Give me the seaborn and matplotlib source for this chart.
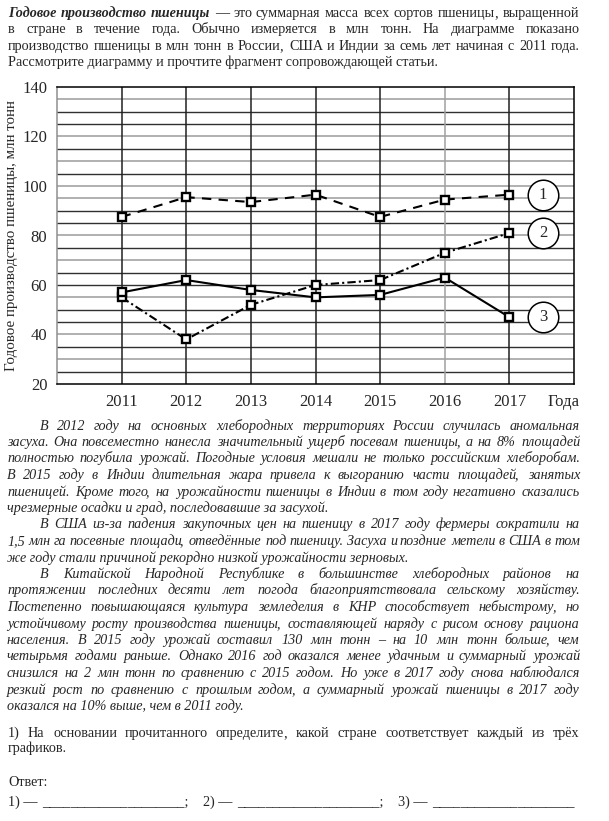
import numpy as np
import pandas as pd
import matplotlib
matplotlib.use('Agg')
import matplotlib.pyplot as plt
import seaborn as sns

years = [2011, 2012, 2013, 2014, 2015, 2016, 2017]
series_1 = [87.5, 95.5, 93.5, 96.5, 87.5, 94.5, 96.5]
series_2 = [55, 38, 52, 60, 62, 73, 81]
series_3 = [57, 62, 58, 55, 56, 63, 47]
series_names = ['1', '2', '3']
y_ticks = [20, 40, 60, 80, 100, 120, 140]
gray_rows = [135, 120, 110, 100, 95, 80, 70, 55, 40, 30]

header = [
    'Годовое производство пшеницы — это суммарная масса всех сортов пшеницы, выращенной',
    'в стране в течение года. Обычно измеряется в млн тонн. На диаграмме показано',
    'производство пшеницы в млн тонн в России, США и Индии за семь лет начиная с 2011 года.',
    'Рассмотрите диаграмму и прочтите фрагмент сопровождающей статьи.',
]
article = [
    'В 2012 году на основных хлебородных территориях России случилась аномальная',
    'засуха. Она повсеместно нанесла значительный ущерб посевам пшеницы, а на 8% площадей',
    'полностью погубила урожай. Погодные условия мешали не только российским хлеборобам.',
    'В 2015 году в Индии длительная жара привела к выгоранию части площадей, занятых',
    'пшеницей. Кроме того, на урожайности пшеницы в Индии в том году негативно сказались',
    'чрезмерные осадки и град, последовавшие за засухой.',
    'В США из-за падения закупочных цен на пшеницу в 2017 году фермеры сократили на',
    '1,5 млн га посевные площади, отведённые под пшеницу. Засуха и поздние метели в США в том',
    'же году стали причиной рекордно низкой урожайности зерновых.',
    'В Китайской Народной Республике в большинстве хлебородных районов на',
    'протяжении последних десяти лет погода благоприятствовала сельскому хозяйству.',
    'Постепенно повышающаяся культура земледелия в КНР способствует небыстрому, но',
    'устойчивому росту производства пшеницы, составляющей наряду с рисом основу рациона',
    'населения. В 2015 году урожай составил 130 млн тонн – на 10 млн тонн больше, чем',
    'четырьмя годами раньше. Однако 2016 год оказался менее удачным и суммарный урожай',
    'снизился на 2 млн тонн по сравнению с 2015 годом. Но уже в 2017 году снова наблюдался',
    'резкий рост по сравнению с прошлым годом, а суммарный урожай пшеницы в 2017 году',
    'оказался на 10% выше, чем в 2011 году.',
]
indent_lines = [0, 6, 9]
last_lines = [5, 8, 17]
question = [
    '1) На основании прочитанного определите, какой стране соответствует каждый из трёх',
    'графиков.',
]

W, H = 609, 821
FS = 10.2

sns.set_style('white')
plt.rcParams['font.family'] = ['Liberation Serif', 'DejaVu Serif']

fig = plt.figure(figsize=(W / 100, H / 100), dpi=100)
renderer = fig.canvas.get_renderer()


def width_of(s, **kw):
    t = fig.text(0, 0, s, **kw)
    w = t.get_window_extent(renderer).width
    t.remove()
    return w


def put_line(text, base, x0, x1, size, style='normal', justify=True, n_bold=0):
    base = round(base)
    if not justify:
        fig.text(x0 / W, 1 - base / H, text, fontsize=size, style=style,
                 va='baseline', ha='left')
        return
    words = text.split(' ')
    groups = []
    for i, w in enumerate(words):
        bold = i < n_bold
        kw = dict(fontsize=size, style='italic' if bold else style,
                  weight='bold' if bold else 'normal', va='baseline', ha='left')
        full = width_of(w, **kw)
        if w.endswith(',') and len(w) > 1:
            # comma drawn on its own so the word keeps the line's baseline
            word_t = fig.text(0, 1 - base / H, w[:-1], **kw)
            comma_t = fig.text(0, 1 - base / H, ',', **kw)
            offs = [0, width_of(w[:-1], **kw) - 1.5]
            groups.append(([word_t, comma_t], offs, full))
        else:
            groups.append(([fig.text(0, 1 - base / H, w, **kw)], [0], full))
    total = sum(g[2] for g in groups)
    gap = (x1 - x0 - total) / (len(groups) - 1)
    x = x0
    for texts, offs, full in groups:
        for t, o in zip(texts, offs):
            t.set_x(round(x + o) / W)
        x += full + gap


# header
for i, line in enumerate(header):
    put_line(line, 17 + 16.4 * i, 8, 580, FS, justify=(i < 3), n_bold=3 if i == 0 else 0)

# chart
ax = fig.add_axes([57 / W, 1 - 384 / H, (574 - 57) / W, (384 - 87) / H])
for v in range(25, 140, 5):
    c = '#b0b0b0' if v in gray_rows else '#303030'
    ax.axhline(v, color=c, lw=1.0 if c == '#303030' else 1.4, zorder=0)
for yr in years:
    c = '#a0a0a0' if yr == 2016 else '#202020'
    ax.axvline(yr, color=c, lw=1.1, zorder=0)

df = pd.DataFrame({'year': years, '1': series_1, '2': series_2, '3': series_3})
styles = {'1': (0, (4.5, 3.5)), '2': (0, (4, 1.5, 1, 1.5)), '3': '-'}
for name in series_names:
    sns.lineplot(data=df, x='year', y=name, ax=ax, color='black', lw=1.5,
                 linestyle=styles[name], marker='s', markersize=5.3,
                 markerfacecolor='white', markeredgecolor='black',
                 markeredgewidth=1.7, zorder=3)
    ax.plot(years[-1] + 0.52, df[name].iloc[-1], marker='o', markersize=22,
            markerfacecolor='white', markeredgecolor='black', markeredgewidth=1.1,
            zorder=4)
    ax.text(years[-1] + 0.52, df[name].iloc[-1], name, fontsize=12,
            ha='center', va='center', zorder=5)

ax.set_xlim(2010, 2018)
ax.set_ylim(20, 140)
ax.set_xticks(years)
ax.set_xticklabels([str(y) for y in years], fontsize=12)
ax.set_yticks(y_ticks)
ax.set_yticklabels([str(v) for v in y_ticks], fontsize=12)
ax.tick_params(length=0, pad=7)
ax.set_xlabel('')
ax.set_ylabel('Годовое производство пшеницы, млн тонн', fontsize=10.8)
ax.yaxis.set_label_coords(-0.075, 0.5)
for s in ['top', 'bottom', 'right']:
    ax.spines[s].set_color('black')
    ax.spines[s].set_linewidth(1.1)
ax.spines['left'].set_color('#909090')
ax.spines['left'].set_linewidth(1.1)
fig.text(548 / W, 1 - 406 / H, 'Года', fontsize=12, va='baseline', ha='left')

# article
for i, line in enumerate(article):
    x0 = 40 if i in indent_lines else 7
    put_line(line, 429.5 + 16.5 * i, x0, 580, FS, style='italic',
             justify=(i not in last_lines))

# question
put_line(question[0], 737, 8, 580, FS)
put_line(question[1], 752.5, 8, 580, FS, justify=False)
put_line('Ответ:', 786, 8, 580, FS, justify=False)

uw = width_of('_', fontsize=FS)
for k, x0 in enumerate([8, 203, 398]):
    lab = fig.text(x0 / W, 1 - 806 / H, f'{k + 1}) —', fontsize=FS, va='baseline', ha='left')
    lw_ = lab.get_window_extent(renderer).width
    n = int(round(142 / uw))
    tail = ';' if k < 2 else ''
    fig.text((x0 + lw_ + 5) / W, 1 - 806 / H, '_' * n + tail, fontsize=FS,
             va='baseline', ha='left')

fig.savefig('out.png', dpi=100)
